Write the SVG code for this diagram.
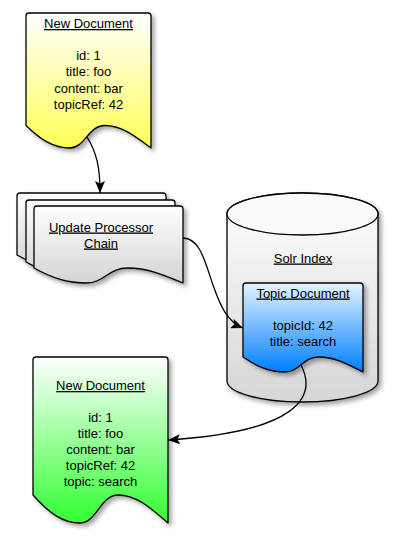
<svg xmlns="http://www.w3.org/2000/svg" width="405" height="551" viewBox="0 0 405 551">
  <style>
    .shape { stroke: #000; stroke-width: 1.3; stroke-linejoin: round; filter: url(#shadow); }
    .lbl { font-family: "Liberation Sans", Arial, sans-serif; font-size: 13px; fill: #000; text-anchor: middle; }
    .title { text-decoration: underline; }
    .conn { fill: none; stroke: #000; stroke-width: 1.3; marker-end: url(#arrow); }
  </style>
  <defs>
    <filter id="shadow" x="-20%" y="-20%" width="140%" height="140%">
      <feDropShadow dx="3" dy="3" stdDeviation="2" flood-color="#000" flood-opacity="0.35"/>
    </filter>
    <linearGradient id="gYellow" x1="0" y1="0" x2="0" y2="1">
      <stop offset="0" stop-color="#ffffff"/>
      <stop offset="1" stop-color="#ffff55"/>
    </linearGradient>
    <linearGradient id="gGreen" x1="0" y1="0" x2="0" y2="1">
      <stop offset="0" stop-color="#ffffff"/>
      <stop offset="1" stop-color="#33ff33"/>
    </linearGradient>
    <linearGradient id="gBlue" x1="0" y1="0" x2="0" y2="1">
      <stop offset="0" stop-color="#e6f3ff"/>
      <stop offset="1" stop-color="#007fff"/>
    </linearGradient>
    <linearGradient id="gGray" x1="0" y1="0" x2="0" y2="1">
      <stop offset="0" stop-color="#ffffff"/>
      <stop offset="1" stop-color="#d4d4d4"/>
    </linearGradient>
    <linearGradient id="gCyl" x1="0" y1="0" x2="0" y2="1">
      <stop offset="0" stop-color="#ffffff"/>
      <stop offset="1" stop-color="#d6d6d6"/>
    </linearGradient>
    <marker id="arrow" viewBox="0 0 12 10" refX="12" refY="5" markerWidth="12" markerHeight="10" markerUnits="userSpaceOnUse" orient="auto">
      <path d="M0,0 L12,5 L0,10 L2.5,5 Z" fill="#000"/>
    </marker>
    <path id="chainDoc" d="M37,206 H180 Q183,206 183,209 V283 C168.1,277 150.2,268 127.9,268 C108.5,268 104,283 86.2,283 C66.8,283 51.9,277.75 34,268 V209 Q34,206 37,206 Z"/>
  </defs>

  <g id="new-document-in">
    <path class="shape" fill="url(#gYellow)" d="M29,13 H148 Q151,13 151,16 V148 C138.5,139 123.5,125.5 104.75,125.5 C88.5,125.5 84.75,148 69.75,148 C53.5,148 41,140 26,125.5 V16 Q26,13 29,13 Z"/>
    <text class="lbl title" x="88.5" y="28">New Document</text>
    <text class="lbl" x="88.5" y="60">id: 1</text>
    <text class="lbl" x="88.5" y="76.3">title: foo</text>
    <text class="lbl" x="88.5" y="92.6">content: bar</text>
    <text class="lbl" x="88.5" y="108.9">topicRef: 42</text>
  </g>

  <g id="update-processor-chain">
    <use href="#chainDoc" class="shape" fill="url(#gGray)" transform="translate(-17,-13)"/>
    <use href="#chainDoc" class="shape" fill="url(#gGray)" transform="translate(-8,-6)"/>
    <use href="#chainDoc" class="shape" fill="url(#gGray)"/>
    <text class="lbl title" x="101" y="231.5">Update Processor</text>
    <text class="lbl title" x="101" y="247.5">Chain</text>
  </g>

  <g id="solr-index">
    <path class="shape" fill="url(#gCyl)" d="M227,214 V381 A75.5,21 0 0 0 378,381 V214 A75.5,21 0 0 0 227,214 Z"/>
    <ellipse cx="302.5" cy="214" rx="75.5" ry="21" fill="#fafafa" stroke="#000" stroke-width="1.3"/>
    <text class="lbl title" x="303" y="262.5">Solr Index</text>
  </g>

  <g id="topic-document">
    <path class="shape" fill="url(#gBlue)" d="M246,283 H360 Q363,283 363,286 V372 C351,366 336.6,357 318.6,357 C303,357 299.4,372 285,372 C269.4,372 257.4,366.75 243,357 V286 Q243,283 246,283 Z"/>
    <text class="lbl title" x="303" y="297.5">Topic Document</text>
    <text class="lbl" x="303" y="329.5">topicId: 42</text>
    <text class="lbl" x="303" y="345.5">title: search</text>
  </g>

  <g id="new-document-out">
    <path class="shape" fill="url(#gGreen)" d="M36,357 H165 Q168,357 168,360 V523 C154.5,511.8 138.3,495 118,495 C100.5,495 96.45,523 80.25,523 C62.7,523 49.2,513.2 33,495 V360 Q33,357 36,357 Z"/>
    <text class="lbl title" x="100.5" y="390">New Document</text>
    <text class="lbl" x="100.5" y="422">id: 1</text>
    <text class="lbl" x="100.5" y="438">title: foo</text>
    <text class="lbl" x="100.5" y="454">content: bar</text>
    <text class="lbl" x="100.5" y="470">topicRef: 42</text>
    <text class="lbl" x="100.5" y="486">topic: search</text>
  </g>

  <g id="connectors">
    <path class="conn" d="M87,137 C97,153 100,168 100,193"/>
    <path class="conn" d="M183,238 C200,238 205,262 213,285 S228,322 243,328"/>
    <path class="conn" d="M301,365 C318,398 295,432 168,440"/>
  </g>
</svg>
